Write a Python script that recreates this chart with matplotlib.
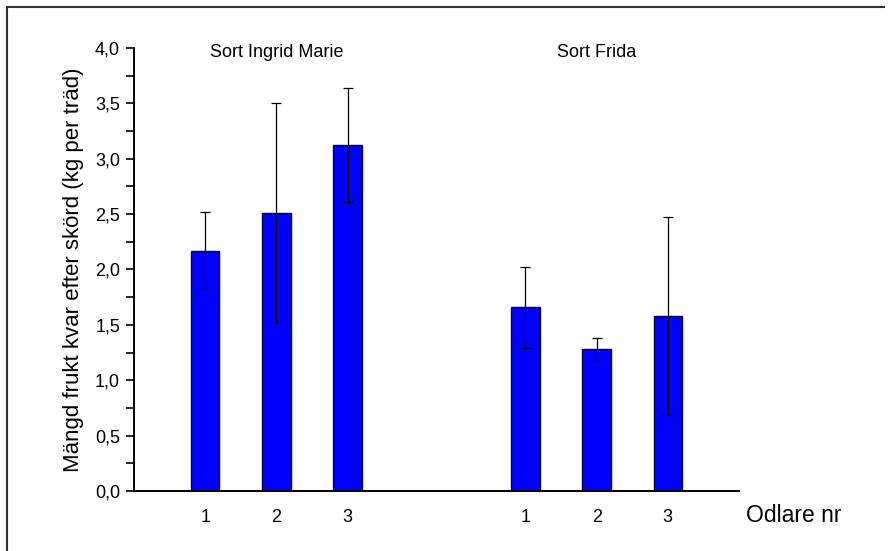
import numpy as np
import matplotlib.pyplot as plt
from matplotlib.lines import Line2D
from matplotlib.ticker import MultipleLocator, FuncFormatter

plt.rcParams['font.family'] = ['Liberation Sans', 'DejaVu Sans']

# odlare 1-3 för varje sort
odlare = ["1", "2", "3", "1", "2", "3"]
pos = [1, 2, 3, 5.5, 6.5, 7.5]
medel = [2.17, 2.51, 3.12, 1.66, 1.28, 1.58]
fel = [0.345, 0.99, 0.515, 0.365, 0.105, 0.89]
sorter = ["Sort Ingrid Marie", "Sort Frida"]
sort_pos = [2.0, 6.5]

fig = plt.figure(figsize=(8.91, 5.51), dpi=100)
ax = fig.add_axes([0.1504, 0.1089, 0.679, 0.804])

ax.bar(pos, medel, width=0.4, color="#0000ff", edgecolor="#000044", linewidth=1.0, zorder=2)
ax.errorbar(pos, medel, yerr=fel, fmt="none", ecolor="black", elinewidth=0.9,
            capsize=3.6, capthick=0.9, zorder=3)

ax.set_xlim(0, 8.5)
ax.set_ylim(0, 4.0)
ax.set_xticks(pos)
ax.set_xticklabels(odlare, fontsize=13)
ax.tick_params(axis="x", length=0, pad=13)
ax.yaxis.set_major_locator(MultipleLocator(0.5))
ax.yaxis.set_minor_locator(MultipleLocator(0.25))
ax.yaxis.set_major_formatter(FuncFormatter(lambda v, p: f"{v:.1f}".replace(".", ",")))
ax.tick_params(axis="y", which="major", length=6, width=1.2, labelsize=13, pad=4)
ax.tick_params(axis="y", which="minor", length=6, width=1.2)

for s in ["top", "right"]:
    ax.spines[s].set_visible(False)
ax.spines["left"].set_linewidth(1.4)
ax.spines["bottom"].set_linewidth(1.4)

ax.set_ylabel("Mängd frukt kvar efter skörd (kg per träd)", fontsize=16, labelpad=8)
fig.text(0.837, 0.065, "Odlare nr", fontsize=16.5, va="center", ha="left")

for namn, x in zip(sorter, sort_pos):
    ax.text(x, 3.955, namn, fontsize=13, ha="center", va="center")

# ram runt figuren (överkant och vänsterkant)
fig.add_artist(Line2D([7 / 891, 884 / 891], [1 - 7 / 551, 1 - 7 / 551], color="#333333", lw=1.5))
fig.add_artist(Line2D([7 / 891, 7 / 891], [0, 1 - 7 / 551], color="#333333", lw=1.5))

fig.savefig("out.png", dpi=100)
